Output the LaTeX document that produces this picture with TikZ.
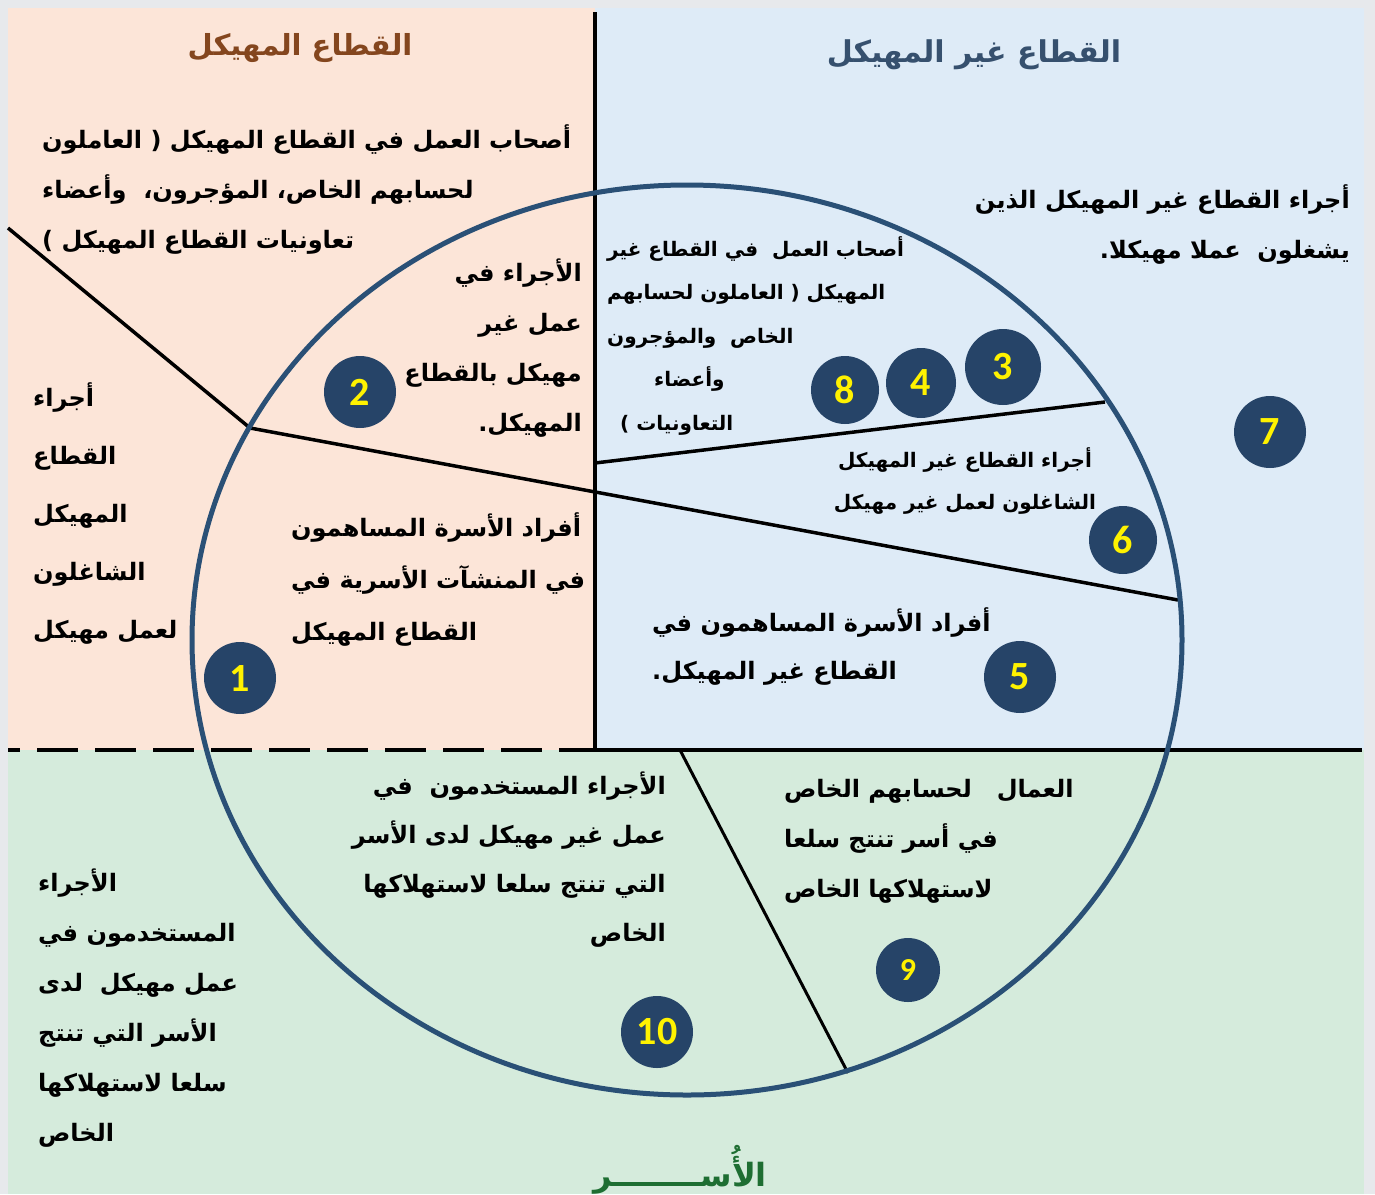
\documentclass[tikz,border=0pt]{standalone}
\usepackage{fontspec}
\usetikzlibrary{positioning}
\TeXXeTstate=1
\newfontfamily\arabicfont[Script=Arabic]{DejaVu Sans}
\newfontfamily\numfont{Carlito}
\newcommand{\ar}[1]{\beginR #1\endR}

\definecolor{margingrey}{RGB}{231,233,236}
\definecolor{pinkbg}{RGB}{252,229,216}
\definecolor{bluebg}{RGB}{222,235,247}
\definecolor{greenbg}{RGB}{213,235,220}
\definecolor{ringcol}{RGB}{42,80,118}
\definecolor{numfill}{RGB}{38,68,104}
\definecolor{titlebrown}{RGB}{132,70,30}
\definecolor{titleslate}{RGB}{54,80,110}
\definecolor{titlegreen}{RGB}{30,110,50}

\tikzset{
    num/.style={
        circle,
        fill=numfill,
        minimum size=72pt,
        inner sep=0pt,
        text=yellow,
        font=\numfont\bfseries\fontsize{40}{40}\selectfont,
    },
    lbl/.style={
        inner sep=0pt,
        font=\arabicfont\bfseries\fontsize{24}{#1}\selectfont,
    },
    lbl/.default=50,
    lblsmall/.style={
        inner sep=0pt,
        font=\arabicfont\bfseries\fontsize{20}{#1}\selectfont,
    },
    lblsmall/.default=43.5,
    heading/.style={
        inner sep=0pt,
        font=\arabicfont\bfseries\fontsize{#1}{36}\selectfont,
    },
    heading/.default=30,
    divider/.style={
        draw=black,
        line width=3.5pt,
    },
    ring/.style={
        draw=ringcol,
        line width=5pt,
    },
}

\begin{document}
\begin{tikzpicture}[x=1pt,y=-1pt]
    \useasboundingbox (0,0) rectangle (1375,1194);
    \fill[margingrey] (0,0) rectangle (1375,1194);
    \fill[pinkbg] (8,8) rectangle (595,750);
    \fill[bluebg] (595,8) rectangle (1364,750);
    \fill[greenbg] (8,750) rectangle (1364,1194);

    % dividing lines
    \coordinate (kink) at (250,428);
    \coordinate (topmid) at (595,12);
    \coordinate (midsplit) at (595,750);
    \draw[divider] (topmid) -- (midsplit);
    \draw[divider, dash pattern=on 41pt off 17pt, dash phase=29pt] (8,750) -- (midsplit);
    \draw[divider] (midsplit) -- (1362,750);
    \draw[divider, line join=round] (8,228) -- (kink) -- (1178,600);
    \draw[divider] (595,463) -- (1105,402);
    \draw[divider, line width=3pt] (680,750) -- (848,1073);

    \draw[ring] (687,640) ellipse [x radius=495pt, y radius=455pt];

    % headings
    \node[heading=29, text=titlebrown] (hFormal) at (300,48) {\ar{القطاع المهيكل}};
    \node[heading, text=titleslate] (hInformal) at (974,55) {\ar{القطاع غير المهيكل}};
    \node[heading=32, text=titlegreen] (hHouse) at (680,1170) {\ar{الأُســــــــر}};

    % text blocks
    \node[lbl, align=left, anchor=north west] (tA) at (42,124)
        {\ar{أصحاب العمل في القطاع المهيكل ( العاملون}\\
         \ar{لحسابهم الخاص، المؤجرون،~~وأعضاء}\\
         \ar{تعاونيات القطاع المهيكل )}};
    \node[lbl, align=right, anchor=north east] (tB) at (582,259)
        {\ar{الأجراء في}\\ \ar{عمل غير}\\ \ar{مهيكل بالقطاع}\\ \ar{المهيكل.}};
    \node[lbl=58, align=left, anchor=north west] (tC) at (33,382)
        {\ar{أجراء}\\ \ar{القطاع}\\ \ar{المهيكل}\\ \ar{الشاغلون}\\ \ar{لعمل مهيكل}};
    \node[lbl=52, align=left, anchor=north west] (tD) at (291,512)
        {\ar{أفراد الأسرة المساهمون}\\
         \ar{في المنشآت الأسرية في}\\
         \ar{القطاع المهيكل}};
    \node[lblsmall, align=left, anchor=north west] (tE) at (607,236)
        {\ar{أصحاب العمل~~في القطاع غير}\\
         \ar{المهيكل ( العاملون لحسابهم}\\
         \ar{الخاص~~والمؤجرون}\\
         \hspace*{47pt}\ar{وأعضاء}\\
         \hspace*{13pt}\ar{التعاونيات )}};
    \node[lbl, align=right, anchor=north east] (tF) at (1350,184)
        {\ar{أجراء القطاع غير المهيكل الذين}\\
         \ar{يشغلون~~عملا مهيكلا.}};
    \node[lblsmall=42, align=center, anchor=north] (tG) at (965,447)
        {\ar{أجراء القطاع غير المهيكل}\\
         \ar{الشاغلون لعمل غير مهيكل}};
    \node[lbl=48, align=left, anchor=north west] (tH) at (652,607)
        {\ar{أفراد الأسرة المساهمون في}\\
         \ar{القطاع غير المهيكل.}};
    \node[lbl=49, align=right, anchor=north east] (tI) at (666,772)
        {\ar{الأجراء المستخدمون~~في}\\
         \ar{عمل غير مهيكل لدى الأسر}\\
         \ar{التي تنتج سلعا لاستهلاكها}\\
         \ar{الخاص}};
    \node[lbl, align=left, anchor=north west] (tJ) at (38,869)
        {\ar{الأجراء}\\ \ar{المستخدمون في}\\ \ar{عمل مهيكل~~لدى}\\
         \ar{الأسر التي تنتج}\\ \ar{سلعا لاستهلاكها}\\ \ar{الخاص}};
    \node[lbl, align=left, anchor=north west] (tK) at (784,779)
        {\ar{العمال~~~لحسابهم الخاص}\\
         \ar{في أسر تنتج سلعا}\\
         \ar{لاستهلاكها الخاص}};

    % numbered markers
    \node[num] (n1) at (240,678) {1};
    \node[num] (n2) at (360,392) {2};
    \node[num, minimum size=76pt] (n3) at (1003,367) {3};
    \node[num, minimum size=70pt] (n4) at (921,383) {4};
    \node[num, minimum size=68pt] (n8) at (845,390) {8};
    \node[num] (n7) at (1270,432) {7};
    \node[num, minimum size=68pt] (n6) at (1123,540) {6};
    \node[num] (n5) at (1020,677) {5};
    \node[num, minimum size=64pt, font=\numfont\bfseries\fontsize{32}{32}\selectfont] (n9) at (908,970) {9};
    \node[num] (n10) at (657,1032) {10};
\end{tikzpicture}
\end{document}
